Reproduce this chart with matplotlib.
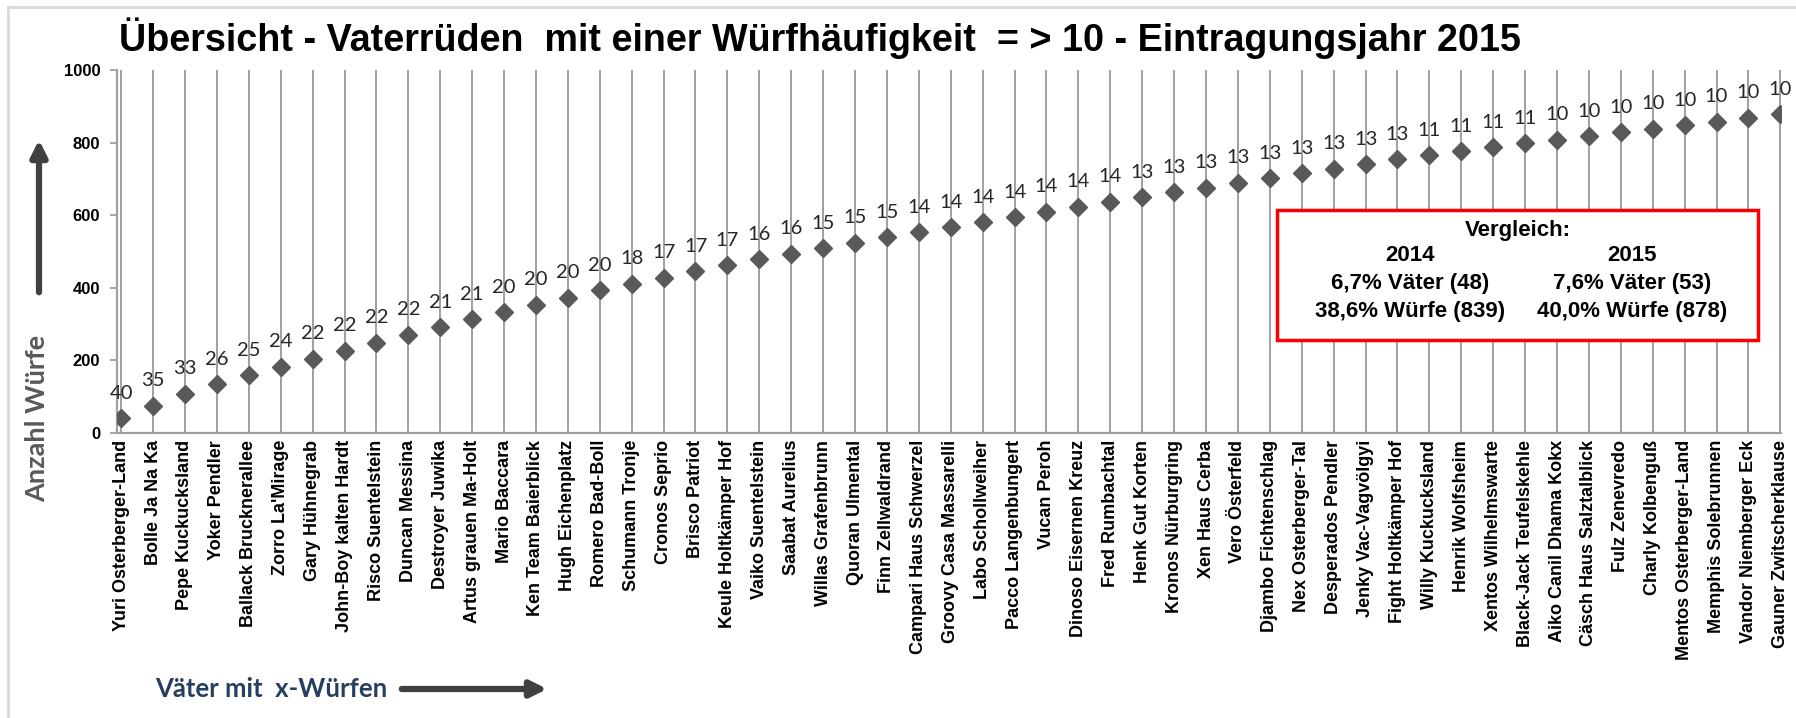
import matplotlib
matplotlib.use("Agg")
import matplotlib.pyplot as plt
from matplotlib import font_manager
from matplotlib.lines import Line2D
from matplotlib.patches import Rectangle
import numpy as np

# Väter (Eintragungsjahr 2015) und ihre Anzahl Würfe
fathers = [
    "Yuri Osterberger-Land", "Bolle Ja Na Ka", "Pepe Kuckucksland", "Yoker Pendler",
    "Ballack Brucknerallee", "Zorro La'Mirage", "Gary Hühnegrab", "John-Boy kalten Hardt",
    "Risco Suentelstein", "Duncan Messina", "Destroyer Juwika", "Artus grauen Ma-Holt",
    "Mario Baccara", "Ken Team Baierblick", "Hugh Eichenplatz", "Romero Bad-Boll",
    "Schumann Tronje", "Cronos Seprio", "Brisco Patriot", "Keule Holtkämper Hof",
    "Vaiko Suentelstein", "Saabat Aurelius", "Willas Grafenbrunn", "Quoran Ulmental",
    "Finn Zellwaldrand", "Campari Haus Schwerzel", "Groovy Casa Massarelli", "Labo Schollweiher",
    "Pacco Langenbungert", "Vucan Peroh", "Dinoso Eisernen Kreuz", "Fred Rumbachtal",
    "Henk Gut Korten", "Kronos Nürburgring", "Xen Haus Cerba", "Vero Österfeld",
    "Djambo Fichtenschlag", "Nex Osterberger-Tal", "Desperados Pendler", "Jenky Vac-Vagvölgyi",
    "Fight Holtkämper Hof", "Willy Kuckucksland", "Henrik Wolfsheim", "Xentos Wilhelmswarte",
    "Black-Jack Teufelskehle", "Aiko Canil Dhama Kokx", "Cäsch Haus Salztalblick", "Fulz Zenevredo",
    "Charly Kolbenguß", "Mentos Osterberger-Land", "Memphis Solebrunnen", "Vandor Niemberger Eck",
    "Gauner Zwitscherklause",
]
litters = [40, 35, 33, 26, 25, 24, 22, 22, 22, 22, 21, 21, 20, 20, 20, 20, 18, 17, 17, 17,
           16, 16, 15, 15, 15, 14, 14, 14, 14, 14, 14, 14, 13, 13, 13, 13, 13, 13, 13, 13,
           13, 11, 11, 11, 11, 10, 10, 10, 10, 10, 10, 10, 10]
y_ticks = [0, 200, 400, 600, 800, 1000]

title = "Übersicht - Vaterrüden  mit einer Würfhäufigkeit  = > 10 - Eintragungsjahr 2015"
box_head = "Vergleich:"
box_years = ["2014", "2015"]
box_rows = [["6,7% Väter (48)", "38,6% Würfe (839)"],
            ["7,6% Väter (53)", "40,0% Würfe (878)"]]

installed = {f.name for f in font_manager.fontManager.ttflist}
narrow = "Liberation Sans Narrow" if "Liberation Sans Narrow" in installed else "Liberation Sans"

W, H = 1796, 718
fig = plt.figure(figsize=(W / 100, H / 100), dpi=100)
ax = fig.add_axes([117 / W, 1 - 433 / H, (1781 - 117) / W, (433 - 70) / H])

x = np.arange(len(fathers))
cum = np.cumsum(litters)

ax.plot(x, cum, linestyle="none", marker="D", markersize=9, color="#595959", zorder=3)
for xi, c, v in zip(x, cum, litters):
    ax.annotate(str(v), (xi, c), xytext=(0, 14), textcoords="offset points",
                ha="center", va="baseline", fontsize=14.5, family="Lato", color="#262626")

ax.set_xlim(-0.13, len(fathers) - 1 + 0.02)
ax.set_ylim(0, 1000)
ax.set_yticks(y_ticks)
ax.set_yticklabels([str(t) for t in y_ticks], fontsize=12, fontweight="bold",
                   family="Liberation Sans")
ax.set_xticks(x)
ax.set_xticklabels(fathers, rotation=90, fontsize=13, fontweight="bold",
                   family="Liberation Sans", va="top")
ax.tick_params(axis="x", length=0, pad=5)
ax.tick_params(axis="y", length=5, width=1.3, color="#A0A0A0", pad=7)
ax.grid(axis="x", color="#A0A0A0", linewidth=1.4)
ax.set_axisbelow(True)
for s in ["top", "right"]:
    ax.spines[s].set_visible(False)
for s in ["left", "bottom"]:
    ax.spines[s].set_color("#A0A0A0")
    ax.spines[s].set_linewidth(1.6)

# Titel
fig.text(820 / W, 1 - 38 / H, title, ha="center", va="center", fontsize=27.2,
         fontweight="bold", family=narrow)

# Achsentitel und Pfeile
fig.text(37 / W, 1 - 418 / H, "Anzahl Würfe", rotation=90, ha="center", va="center",
         fontsize=19.5, fontweight="bold", family="Lato", color="#595959")
fig.text(155 / W, 1 - 689 / H, "Väter mit  x-Würfen", ha="left", va="center",
         fontsize=18.5, fontweight="bold", family="Lato", color="#243F60")
ax.annotate("", xy=(39, H - 137), xytext=(39, H - 295), xycoords="figure pixels",
            textcoords="figure pixels",
            arrowprops=dict(arrowstyle="-|>", lw=4.5, color="#404040", mutation_scale=24))
ax.annotate("", xy=(550, 29), xytext=(399, 29), xycoords="figure pixels",
            textcoords="figure pixels",
            arrowprops=dict(arrowstyle="-|>", lw=4.5, color="#404040", mutation_scale=24))

# Vergleichsbox
bx0, by0, bx1, by1 = 1277, 210, 1758, 340
fig.add_artist(Rectangle((bx0 / W, 1 - by1 / H), (bx1 - bx0) / W, (by1 - by0) / H,
                         transform=fig.transFigure, facecolor="white", edgecolor="#FF0000",
                         linewidth=2.5, zorder=5))
fig.text((bx0 + bx1) / 2 / W, 1 - 230 / H, box_head, ha="center", va="center",
         fontsize=16, fontweight="bold", family=narrow, zorder=6)
for col_x, year, rows in zip([1410, 1632], box_years, box_rows):
    fig.text(col_x / W, 1 - 256 / H, year, ha="center", va="center",
             fontsize=16, fontweight="bold", family=narrow, zorder=6)
    for ry, txt in zip([284, 312], rows):
        fig.text(col_x / W, 1 - ry / H, txt, ha="center", va="center",
                 fontsize=16, fontweight="bold", family=narrow, zorder=6)

# heller Rahmen des Diagrammbereichs
fig.add_artist(Line2D([8 / W, 8 / W], [0, 1 - 7 / H], transform=fig.transFigure,
                      color="#D9D9D9", lw=2))
fig.add_artist(Line2D([8 / W, 1], [1 - 7 / H, 1 - 7 / H], transform=fig.transFigure,
                      color="#D9D9D9", lw=2))

fig.savefig("out.png", dpi=100, facecolor="white")
